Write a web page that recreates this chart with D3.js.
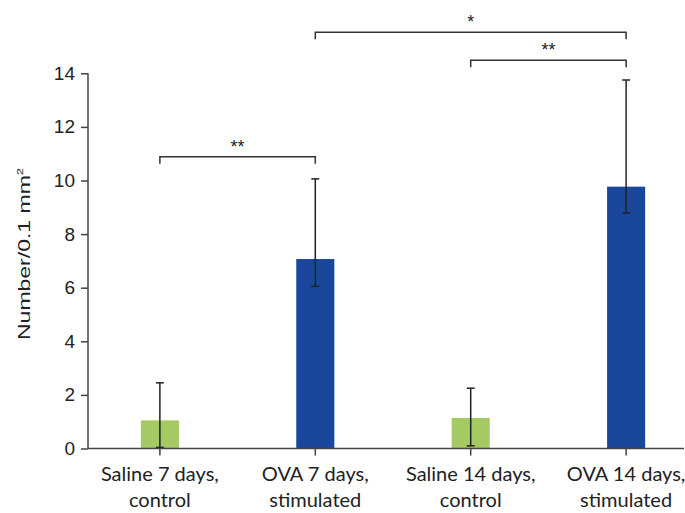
<!DOCTYPE html>
<html>
<head>
<meta charset="utf-8">
<script src="https://cdn.jsdelivr.net/npm/d3@7"></script>
<style>
  body { margin: 0; background: #fff; }
  svg { display: block; }
  .tick-label { font-family: "Liberation Sans", Arial, sans-serif; font-size: 19px; fill: #222; }
  .cat-label { font-family: Lato, "Noto Sans", sans-serif; font-size: 20px; fill: #222; }
  .star { font-family: "Liberation Sans", Arial, sans-serif; font-size: 18px; fill: #222; }
</style>
</head>
<body>
<svg id="chart" width="685" height="513"></svg>
<script>
(function() {
    // groups, two lines of label each
    var categories = ["Saline 7 days", "OVA 7 days", "Saline 14 days", "OVA 14 days"]
    var labelLines = [["Saline 7 days,", "control"], ["OVA 7 days,", "stimulated"],
                      ["Saline 14 days,", "control"], ["OVA 14 days,", "stimulated"]]
    var means = [1.05, 7.07, 1.14, 9.77]
    var errUpper = [2.45, 10.06, 2.25, 13.75]
    var errLower = [0.04, 6.05, 0.10, 8.79]
    var barColors = ["#a5c963", "#1a479b", "#a5c963", "#1a479b"]
    var yTicks = [0, 2, 4, 6, 8, 10, 12, 14]

    // significance brackets: from group, to group, bracket level (y units), label
    var sigFrom = [0, 1, 2]
    var sigTo = [1, 3, 3]
    var sigLevel = [10.89, 15.53, 14.49]
    var sigText = ["**", "*", "**"]

    var svg = d3.select("#chart")

    var y = d3.scaleLinear()
        .domain([0, 14])
        .range([448.5, 73.3])

    var x = d3.scaleBand()
        .domain(categories)
        .range([88, 698])
        .paddingInner(0.755)
        .paddingOuter(0.34)

    var cx = d => x(d) + x.bandwidth() / 2
    var axisColor = "#444"

    // bars
    svg.append("g")
        .selectAll("rect")
        .data(categories)
        .join("rect")
            .attr("x", d => x(d))
            .attr("y", (d, i) => y(means[i]))
            .attr("width", x.bandwidth())
            .attr("height", (d, i) => y(0) - y(means[i]))
            .attr("fill", (d, i) => barColors[i])

    // error bars
    var err = svg.append("g").attr("stroke", "#222").attr("stroke-width", 1.5)
    categories.forEach((c, i) => {
        err.append("line")
            .attr("x1", cx(c)).attr("x2", cx(c))
            .attr("y1", y(errLower[i])).attr("y2", y(errUpper[i]))
        ;[errLower[i], errUpper[i]].forEach(v => {
            err.append("line")
                .attr("x1", cx(c) - 4).attr("x2", cx(c) + 4)
                .attr("y1", y(v)).attr("y2", y(v))
        })
    })

    // y axis
    var yAxis = svg.append("g")
        .attr("transform", "translate(88,0)")
        .call(d3.axisLeft(y).tickValues(yTicks).tickSize(7).tickPadding(6))
    yAxis.select(".domain").attr("stroke", axisColor).attr("stroke-width", 1.5)
        .attr("d", `M0,${y(0)}V${y(14)}`)
    yAxis.selectAll(".tick line").attr("stroke", axisColor).attr("stroke-width", 1.5)
    yAxis.selectAll(".tick text").attr("class", "tick-label").attr("font-size", null)
        .attr("font-family", null).attr("fill", null)

    // x axis
    svg.append("line")
        .attr("x1", 88).attr("x2", 684)
        .attr("y1", y(0)).attr("y2", y(0))
        .attr("stroke", axisColor).attr("stroke-width", 1.5)
    svg.append("g")
        .selectAll("line")
        .data(categories)
        .join("line")
            .attr("x1", cx).attr("x2", cx)
            .attr("y1", y(0)).attr("y2", y(0) + 7)
            .attr("stroke", axisColor).attr("stroke-width", 1.5)

    var cats = svg.append("g")
        .selectAll("text")
        .data(categories)
        .join("text")
            .attr("class", "cat-label")
            .attr("text-anchor", "middle")
    cats.selectAll("tspan")
        .data((d, i) => labelLines[i].map(t => ({ t: t, c: d })))
        .join("tspan")
            .attr("x", d => cx(d.c))
            .attr("y", (d, j) => 481 + j * 26)
            .text(d => d.t)

    // y title (the source figure is stretched along its length)
    svg.append("text")
        .attr("transform", "translate(30,254) rotate(-90) scale(1,0.74)")
        .attr("text-anchor", "middle")
        .attr("font-family", "'Liberation Sans', Arial, sans-serif")
        .attr("font-size", 23)
        .attr("fill", "#222")
        .html('Number/0.1 mm<tspan font-size="13" dy="-9">2</tspan>')

    // significance brackets
    var sig = svg.append("g")
    sigFrom.forEach((f, i) => {
        var x1 = cx(categories[f]), x2 = cx(categories[sigTo[i]]), yy = y(sigLevel[i])
        sig.append("path")
            .attr("d", `M${x1},${yy + 7}V${yy}H${x2}V${yy + 7}`)
            .attr("fill", "none")
            .attr("stroke", "#333")
            .attr("stroke-width", 1.5)
        sig.append("text")
            .attr("class", "star")
            .attr("x", (x1 + x2) / 2)
            .attr("y", yy - 4)
            .attr("text-anchor", "middle")
            .text(sigText[i])
    })
})();
</script>
</body>
</html>
